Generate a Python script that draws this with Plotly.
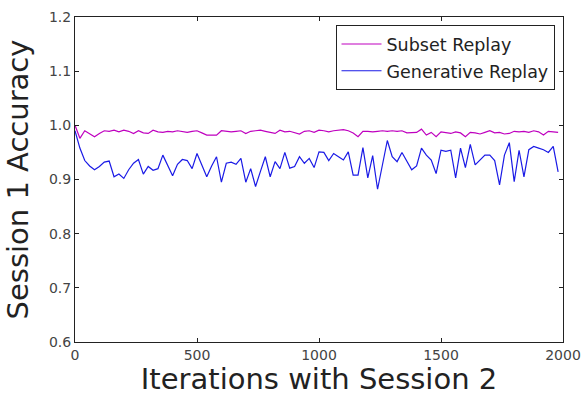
import plotly.graph_objects as go

iterations = list(range(0, 2000, 20))

subset_replay = [
    1.000, 0.976, 0.990, 0.985, 0.979, 0.985, 0.990, 0.989, 0.991, 0.988,
    0.991, 0.989, 0.985, 0.990, 0.986, 0.985, 0.991, 0.988, 0.987, 0.989,
    0.988, 0.990, 0.988, 0.987, 0.989, 0.990, 0.986, 0.982, 0.982, 0.982,
    0.990, 0.989, 0.988, 0.989, 0.990, 0.985, 0.989, 0.990, 0.991, 0.989,
    0.987, 0.985, 0.991, 0.988, 0.989, 0.986, 0.984, 0.989, 0.990, 0.987,
    0.991, 0.990, 0.988, 0.990, 0.991, 0.992, 0.990, 0.986, 0.979, 0.989,
    0.989, 0.988, 0.989, 0.990, 0.989, 0.990, 0.989, 0.990, 0.986, 0.986,
    0.987, 0.993, 0.982, 0.987, 0.979, 0.988, 0.987, 0.985, 0.988, 0.986,
    0.979, 0.987, 0.986, 0.984, 0.987, 0.990, 0.986, 0.987, 0.984, 0.985,
    0.989, 0.988, 0.989, 0.987, 0.990, 0.988, 0.982, 0.989, 0.988, 0.987,
]

generative_replay = [
    0.990, 0.958, 0.935, 0.925, 0.918, 0.924, 0.932, 0.934, 0.905, 0.910,
    0.902, 0.918, 0.930, 0.937, 0.910, 0.924, 0.917, 0.920, 0.945, 0.925,
    0.907, 0.928, 0.937, 0.935, 0.920, 0.948, 0.925, 0.905, 0.925, 0.942,
    0.895, 0.930, 0.932, 0.928, 0.939, 0.895, 0.920, 0.887, 0.915, 0.942,
    0.905, 0.933, 0.920, 0.950, 0.921, 0.924, 0.942, 0.930, 0.939, 0.922,
    0.951, 0.950, 0.935, 0.948, 0.942, 0.936, 0.951, 0.908, 0.908, 0.959,
    0.903, 0.944, 0.882, 0.930, 0.972, 0.942, 0.933, 0.950, 0.933, 0.918,
    0.925, 0.958, 0.945, 0.936, 0.911, 0.954, 0.952, 0.954, 0.903, 0.958,
    0.922, 0.965, 0.927, 0.936, 0.945, 0.945, 0.935, 0.890, 0.945, 0.968,
    0.896, 0.954, 0.905, 0.955, 0.961, 0.958, 0.955, 0.950, 0.961, 0.914,
]

x_ticks = [0, 500, 1000, 1500, 2000]
y_ticks = [0.6, 0.7, 0.8, 0.9, 1.0, 1.1, 1.2]

FONT = "DejaVu Sans"

fig = go.Figure()
fig.add_trace(go.Scatter(
    x=iterations, y=subset_replay, mode="lines", name="Subset Replay",
    legendgroup="a", line=dict(color="#bf00bf", width=1.2),
))
fig.add_trace(go.Scatter(
    x=iterations, y=generative_replay, mode="lines", name="Generative Replay",
    legendgroup="b", line=dict(color="#1a1ae6", width=1.2),
))

axis_common = dict(
    showgrid=False, zeroline=False, showline=True, linecolor="#222222",
    linewidth=1, mirror="ticks", ticks="inside", ticklen=4, tickwidth=1,
    tickcolor="#222222", tickfont=dict(family=FONT, size=14, color="#444444"),
    automargin=False,
)

fig.update_xaxes(
    range=[0, 2000], tickvals=x_ticks, ticktext=[str(v) for v in x_ticks],
    title=dict(text="Iterations with Session 2", font=dict(family=FONT, size=29, color="#222222"), standoff=3),
    **axis_common,
)
fig.update_yaxes(
    range=[0.6, 1.2], tickvals=y_ticks, ticktext=[f"{v:.1f}" for v in y_ticks],
    title=dict(text="Session 1 Accuracy", font=dict(family=FONT, size=29, color="#222222"), standoff=11),
    **axis_common,
)

fig.update_layout(
    width=582, height=396,
    margin=dict(l=74.5, r=18.5, t=17, b=54, pad=0),
    paper_bgcolor="white", plot_bgcolor="white",
    showlegend=True,
    legend=dict(
        x=0.9826, y=0.975, xanchor="right", yanchor="top",
        bgcolor="white", bordercolor="#222222", borderwidth=1,
        font=dict(family=FONT, size=17.5, color="#222222"),
        tracegroupgap=1, itemwidth=40,
    ),
)

fig.write_html("out.html")
